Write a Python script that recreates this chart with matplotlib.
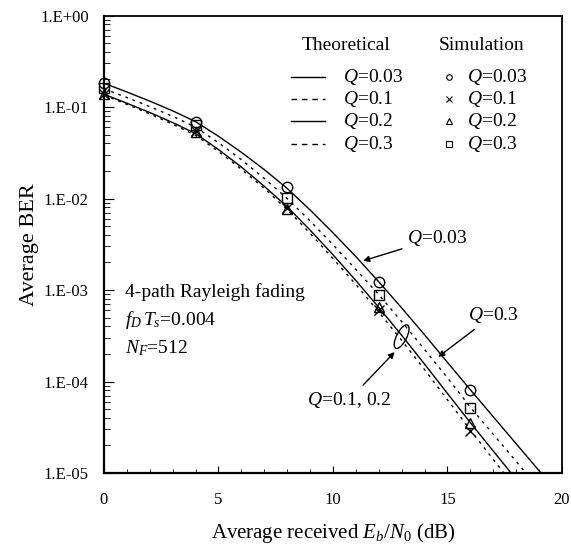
import numpy as np
import matplotlib
matplotlib.use("Agg")
import matplotlib.pyplot as plt
import matplotlib.transforms as mtransforms
from matplotlib.patches import Ellipse

plt.rcParams['font.family'] = ['Liberation Serif', 'DejaVu Serif']
plt.rcParams['mathtext.fontset'] = 'custom'
plt.rcParams['mathtext.rm'] = 'Liberation Serif'
plt.rcParams['mathtext.it'] = 'Liberation Serif:italic'

# ---- data ----
snr_th = list(range(0, 21))
ber_th_q003 = [0.182, 0.146, 0.116, 0.0908, 0.0692, 0.0479, 0.0320, 0.0207, 0.0129,
               7.50e-3, 4.22e-3, 2.32e-3, 1.23e-3, 6.38e-4, 3.24e-4, 1.62e-4, 8.13e-5,
               4.12e-5, 2.09e-5, 1.06e-5, 5.37e-6]
ber_th_q01 = [0.135, 0.107, 0.0841, 0.0650, 0.0490, 0.0327, 0.0209, 0.0129, 7.59e-3,
              4.17e-3, 2.21e-3, 1.15e-3, 5.75e-4, 2.82e-4, 1.35e-4, 6.31e-5, 2.95e-5,
              1.41e-5, 6.76e-6, 3.24e-6, 1.55e-6]
ber_th_q02 = [0.138, 0.110, 0.0871, 0.0676, 0.0513, 0.0343, 0.0221, 0.0136, 8.13e-3,
              4.52e-3, 2.43e-3, 1.27e-3, 6.46e-4, 3.20e-4, 1.55e-4, 7.41e-5, 3.55e-5,
              1.74e-5, 8.55e-6, 4.20e-6, 2.06e-6]
ber_th_q03 = [0.158, 0.127, 0.101, 0.0791, 0.0603, 0.0407, 0.0266, 0.0166, 0.0100,
              5.69e-3, 3.13e-3, 1.68e-3, 8.91e-4, 4.52e-4, 2.24e-4, 1.10e-4, 5.25e-5,
              2.65e-5, 1.34e-5, 6.79e-6, 3.47e-6]

snr_sim = [0, 4, 8, 12, 16]
ber_sim_q003 = [0.183, 0.069, 0.0135, 1.23e-3, 8.1e-5]
ber_sim_q01 = [0.140, 0.055, 7.8e-3, 6.1e-4, 2.9e-5]
ber_sim_q02 = [0.139, 0.053, 7.6e-3, 6.5e-4, 3.5e-5]
ber_sim_q03 = [0.161, 0.0636, 0.0101, 8.8e-4, 5.1e-5]

q_labels = ['0.03', '0.1', '0.2', '0.3']
ytick_vals = [1e-5, 1e-4, 1e-3, 1e-2, 1e-1, 1e0]
ytick_labels = ['1.E-05', '1.E-04', '1.E-03', '1.E-02', '1.E-01', '1.E+00']

# ---- figure ----
fig = plt.figure(figsize=(5.71, 5.50), dpi=100)
ax = fig.add_axes([0.1821, 0.14, 0.802, 0.8318])

solid = dict(color='black', lw=1.0, linestyle='-')
dash = dict(color='black', lw=1.0, linestyle=(0, (2, 3.5)))

ax.plot(snr_th, ber_th_q003, **solid)
ax.plot(snr_th, ber_th_q01, **dash)
ax.plot(snr_th, ber_th_q02, **solid)
ax.plot(snr_th, ber_th_q03, **dash)

mk = dict(linestyle='none', mfc='none', mec='black', mew=1.0, ms=7.5, clip_on=False)
ax.plot(snr_sim, ber_sim_q003, marker='o', **mk)
ax.plot(snr_sim, ber_sim_q01, marker='x', **mk)
ax.plot(snr_sim, ber_sim_q02, marker='^', **mk)
ax.plot(snr_sim, ber_sim_q03, marker='s', **{**mk, 'ms': 7})

ax.set_yscale('log')
ax.set_xlim(0, 20)
ax.set_ylim(1e-5, 1)
ax.set_xticks([0, 5, 10, 15, 20])
ax.set_xticks(range(0, 21), minor=True)
ax.set_yticks(ytick_vals)
ax.set_yticklabels(ytick_labels)
ax.tick_params(axis='both', which='both', direction='in', top=False, right=False,
               labelsize=12)
ax.tick_params(axis='y', which='major', length=7, pad=11)
ax.tick_params(axis='y', which='minor', length=4)
ax.tick_params(axis='x', which='major', length=5, pad=14)
ax.tick_params(axis='x', which='minor', length=3)
for s in ax.spines.values():
    s.set_linewidth(1.3)
ax.spines['left'].set_linewidth(1.6)
ax.spines['bottom'].set_linewidth(1.6)

ax.set_xlabel(r'Average received $E_b/N_0$ (dB)', fontsize=15, labelpad=9)
ax.set_ylabel('Average BER', fontsize=16, labelpad=1)

# ---- legend built by hand ----
fs = 14
ax.text(0.528, 0.9355, 'Theoretical', transform=ax.transAxes, ha='center', va='center', fontsize=fs)
ax.text(0.8247, 0.9355, 'Simulation', transform=ax.transAxes, ha='center', va='center', fontsize=fs)
rows = [0.866, 0.817, 0.769, 0.720]
th_styles = [solid, dict(color='black', lw=1.0, linestyle=(0, (4, 3.5))), solid,
             dict(color='black', lw=1.0, linestyle=(0, (4, 3.5)))]
sim_markers = ['o', 'x', '^', 's']
for yrow, lab, st, m in zip(rows, q_labels, th_styles, sim_markers):
    ax.plot([0.4076, 0.4825], [yrow, yrow], transform=ax.transAxes, **st)
    ax.text(0.521, yrow, r'$Q$=' + lab, transform=ax.transAxes, va='center', fontsize=fs)
    ax.plot([0.753], [yrow], transform=ax.transAxes, marker=m, linestyle='none',
            mfc='none', mec='black', mew=0.8, ms=4)
    ax.text(0.792, yrow, r'$Q$=' + lab, transform=ax.transAxes, va='center', fontsize=fs)

# ---- annotations ----
ax.text(0.92, 10**-3.019, '4-path Rayleigh fading', va='center', fontsize=fs)
ax.text(0.92, 10**-3.328, r'$f_D\,T_s$=0.004', va='center', fontsize=fs)
ax.text(0.92, 10**-3.634, r'$N_F$=512', va='center', fontsize=fs)

arrow = dict(arrowstyle='-|>', color='black', lw=1.0, mutation_scale=9)
ax.annotate(r'$Q$=0.03', xy=(11.2, 10**-2.69), xytext=(13.25, 10**-2.43),
            va='center', fontsize=fs, arrowprops=arrow)
ax.annotate(r'$Q$=0.3', xy=(14.5, 10**-3.75), xytext=(15.9, 10**-3.273),
            va='center', fontsize=fs, arrowprops=arrow)
ax.annotate(r'$Q$=0.1, 0.2', xy=(12.78, 10**-3.656), xytext=(8.85, 10**-4.202),
            va='center', fontsize=fs, arrowprops=arrow)

trans = fig.dpi_scale_trans + mtransforms.ScaledTranslation(13.0, 10**-3.51, ax.transData)
ax.add_patch(Ellipse((0, 0), width=0.10, height=0.26, angle=-27, fill=False,
                     edgecolor='black', lw=1.0, transform=trans))

fig.savefig('out.png', dpi=100)
